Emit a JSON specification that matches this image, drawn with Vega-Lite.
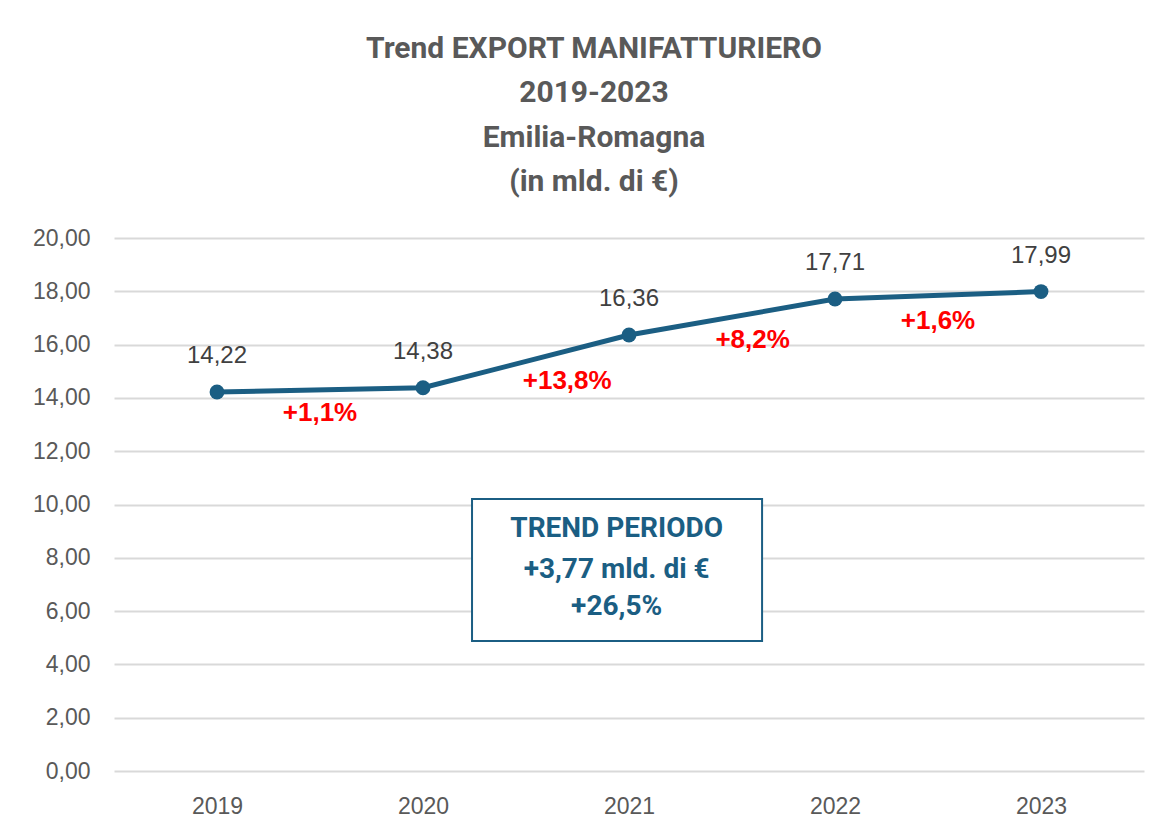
{
  "$schema": "https://vega.github.io/schema/vega-lite/v6.json",
  "width": 1030,
  "height": 533,
  "autosize": {"type": "none"},
  "padding": {"left": 114, "top": 238, "right": 17, "bottom": 64},
  "background": "white",
  "title": {
    "text": ["Trend EXPORT MANIFATTURIERO", "2019-2023", "Emilia-Romagna", "(in mld. di €)"],
    "anchor": "middle",
    "frame": "group",
    "dx": -35,
    "offset": 30,
    "fontSize": 30,
    "fontWeight": "bold",
    "font": "Roboto",
    "color": "#595959",
    "lineHeight": 44.5
  },
  "datasets": {
    "main": [
      {"year": 2019, "value": 14.22, "label": "14,22"},
      {"year": 2020, "value": 14.38, "label": "14,38"},
      {"year": 2021, "value": 16.36, "label": "16,36"},
      {"year": 2022, "value": 17.71, "label": "17,71"},
      {"year": 2023, "value": 17.99, "label": "17,99"}
    ],
    "pct": [
      {"x": 2019.5, "y": 13.43, "label": "+1,1%"},
      {"x": 2020.7, "y": 14.63, "label": "+13,8%"},
      {"x": 2021.6, "y": 16.17, "label": "+8,2%"},
      {"x": 2022.5, "y": 16.88, "label": "+1,6%"}
    ],
    "box": [
      {"x": 2020.238, "x2": 2021.646, "y": 10.21, "y2": 4.88}
    ],
    "boxtext": [
      {"x": 2020.94, "y": 9.08, "label": "TREND PERIODO"},
      {"x": 2020.94, "y": 7.54, "label": "+3,77 mld. di €"},
      {"x": 2020.94, "y": 6.15, "label": "+26,5%"}
    ]
  },
  "config": {
    "view": {"stroke": null},
    "axis": {
      "labelFont": "Liberation Sans",
      "labelFontSize": 23,
      "labelColor": "#595959",
      "ticks": false,
      "domain": false,
      "title": null
    }
  },
  "layer": [
    {
      "data": {"name": "main"},
      "mark": {"type": "line", "color": "#1b5e83", "strokeWidth": 5},
      "encoding": {
        "x": {
          "field": "year", "type": "quantitative",
          "scale": {"domain": [2018.5, 2023.5], "nice": false, "zero": false},
          "axis": {"values": [2019, 2020, 2021, 2022, 2023], "format": "d", "grid": false, "labelPadding": 24}
        },
        "y": {
          "field": "value", "type": "quantitative",
          "scale": {"domain": [0, 20], "nice": false},
          "axis": {
            "values": [0, 2, 4, 6, 8, 10, 12, 14, 16, 18, 20],
            "labelExpr": "replace(format(datum.value, '.2f'), '.', ',')",
            "gridColor": "#d9d9d9",
            "gridWidth": 2,
            "labelPadding": 24
          }
        }
      }
    },
    {
      "data": {"name": "main"},
      "mark": {"type": "point", "filled": true, "color": "#1b5e83", "size": 220, "opacity": 1},
      "encoding": {
        "x": {"field": "year", "type": "quantitative"},
        "y": {"field": "value", "type": "quantitative"}
      }
    },
    {
      "data": {"name": "main"},
      "mark": {"type": "text", "dy": -36, "fontSize": 24, "font": "Liberation Sans", "color": "#404040"},
      "encoding": {
        "x": {"field": "year", "type": "quantitative"},
        "y": {"field": "value", "type": "quantitative"},
        "text": {"field": "label"}
      }
    },
    {
      "data": {"name": "pct"},
      "mark": {"type": "text", "fontSize": 26, "fontWeight": "bold", "font": "Liberation Sans", "color": "#ff0000"},
      "encoding": {
        "x": {"field": "x", "type": "quantitative"},
        "y": {"field": "y", "type": "quantitative"},
        "text": {"field": "label"}
      }
    },
    {
      "data": {"name": "box"},
      "mark": {"type": "rect", "fill": "white", "stroke": "#1b5e83", "strokeWidth": 2},
      "encoding": {
        "x": {"field": "x", "type": "quantitative"},
        "x2": {"field": "x2"},
        "y": {"field": "y", "type": "quantitative"},
        "y2": {"field": "y2"}
      }
    },
    {
      "data": {"name": "boxtext"},
      "mark": {"type": "text", "fontSize": 28, "fontWeight": "bold", "font": "Roboto", "color": "#1b5e83"},
      "encoding": {
        "x": {"field": "x", "type": "quantitative"},
        "y": {"field": "y", "type": "quantitative"},
        "text": {"field": "label"}
      }
    }
  ]
}
